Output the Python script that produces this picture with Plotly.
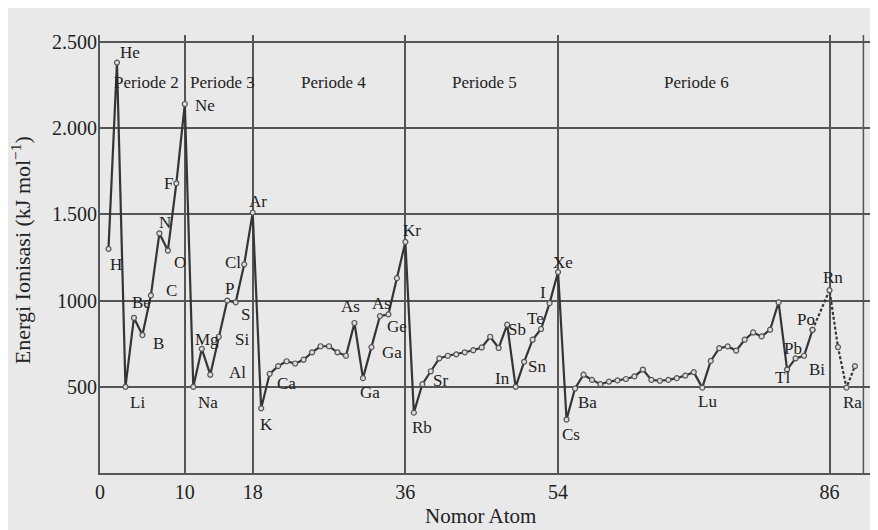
import plotly.graph_objects as go

# ---------------- data ----------------
atomic_numbers = list(range(1, 85))
energies = [1300, 2380, 500, 900, 800, 1030, 1390, 1290, 1680, 2140,
            500, 720, 570, 790, 1000, 990, 1210, 1510,
            375, 575, 620, 648, 635, 657, 700, 735, 735, 700, 680, 870, 550, 730, 910, 920, 1130, 1340,
            350, 515, 590, 665, 680, 688, 700, 712, 728, 790, 725, 860, 500, 645, 773, 835, 985, 1165,
            310, 490, 570, 540, 515, 530, 537, 545, 560, 600, 540, 535, 540, 550, 565, 585, 495,
            650, 724, 734, 710, 773, 815, 792, 831, 990, 600, 665, 680, 830]

dashed_numbers = [84, 86, 87, 88, 89]
dashed_energies = [830, 1060, 730, 495, 620]

label_numbers = [1, 2, 3, 4, 5, 6, 7, 8, 9, 10, 11, 12, 13, 14, 15, 16, 17, 18, 19, 20,
                 30, 31, 32, 33, 34, 36, 37, 38, 48, 49, 50, 52, 53, 54, 55, 56, 71,
                 81, 82, 83, 84, 86, 88]
label_texts = ["H", "He", "Li", "Be", "B", "C", "N", "O", "F", "Ne", "Na", "Mg", "Al", "Si",
               "P", "S", "Cl", "Ar", "K", "Ca", "As", "Ga", "Ga", "As", "Ge", "Kr", "Rb", "Sr",
               "Sb", "In", "Sn", "Te", "I", "Xe", "Cs", "Ba", "Lu", "Tl", "Pb", "Bi", "Po",
               "Rn", "Ra"]

period_names = ["Periode 2", "Periode 3", "Periode 4", "Periode 5", "Periode 6"]
period_centers = [5.5, 14.4, 27.5, 45.3, 70.3]

x_ticks = [0, 10, 18, 36, 54, 86]
x_ticktext = ["0", "10", "18", "36", "54", "86"]
extra_vline = 90
y_ticks = [500, 1000, 1500, 2000, 2500]
y_ticktext = ["500", "1000", "1.500", "2.000", "2.500"]

# ---------------- styles ----------------
label_offsets = [(8, -16), (13, 10), (12, -16), (8, 15), (16, -8), (21, 5), (6, 11), (12, -12),
                 (-8, 0), (20, -2), (15, -16), (5, 9), (27, 2), (23, -3), (2, 12), (10, -12),
                 (-11, 2), (5, 11), (5, -16), (17, -10), (-4, 16), (7, -14), (21, -5), (2, 13),
                 (9, -12), (7, 11), (8, -15), (18, 4), (10, -5), (-13, 8), (13, -5), (-6, 11),
                 (-7, 11), (5, 10), (4, -15), (12, -14), (5, -14), (-5, -8), (-3, 10), (13, -14),
                 (-7, 10), (3, 13), (6, -15)]

FONT = "Liberation Serif, DejaVu Serif, serif"
TXT = "#222222"
LINE = "#353535"
GRID = "#555555"
BG = "#e9e9e9"

all_z = atomic_numbers + dashed_numbers
all_e = energies + dashed_energies
lookup = dict(zip(all_z, all_e))

fig = go.Figure()
fig.add_trace(go.Scatter(
    x=atomic_numbers, y=energies, mode="lines+markers",
    line=dict(color=LINE, width=2.2),
    marker=dict(size=5, color="#dcdcdc", line=dict(color="#555555", width=1.2)),
    showlegend=False, hoverinfo="skip"))
fig.add_trace(go.Scatter(
    x=dashed_numbers, y=dashed_energies, mode="lines+markers",
    line=dict(color=LINE, width=2.2, dash="3px,2px"),
    marker=dict(size=5, color="#dcdcdc", line=dict(color="#555555", width=1.2)),
    showlegend=False, hoverinfo="skip"))

annotations = []
for z, t, (dx, dy) in zip(label_numbers, label_texts, label_offsets):
    annotations.append(dict(x=z, y=lookup[z], text=t, showarrow=False, xshift=dx, yshift=dy,
                            xanchor="center", yanchor="middle",
                            font=dict(family=FONT, size=17, color=TXT)))
for name, cx in zip(period_names, period_centers):
    annotations.append(dict(x=cx, y=2262, text=name, showarrow=False,
                            xanchor="center", yanchor="middle",
                            font=dict(family=FONT, size=17, color=TXT)))
annotations.append(dict(xref="paper", yref="paper", x=-0.1015, y=0.509,
                        text="Energi Ionisasi (kJ mol<sup>−1</sup>)", textangle=-90,
                        showarrow=False, xanchor="center", yanchor="middle",
                        font=dict(family=FONT, size=22, color=TXT)))
annotations.append(dict(xref="paper", yref="paper", x=0.49, y=-0.098,
                        text="Nomor Atom", showarrow=False, xanchor="center", yanchor="middle",
                        font=dict(family=FONT, size=21, color=TXT)))

fig.update_layout(
    width=870, height=522,
    margin=dict(l=92, r=1, t=27, b=57),
    paper_bgcolor=BG, plot_bgcolor=BG,
    annotations=annotations,
    shapes=[dict(type="line", xref="x", yref="y", x0=extra_vline, x1=extra_vline,
                 y0=0, y1=2540, line=dict(color=GRID, width=1.5), layer="below")],
    xaxis=dict(range=[0, 91.6], tickvals=x_ticks, ticktext=x_ticktext,
               showgrid=True, gridcolor=GRID, gridwidth=1.5, zeroline=False,
               showline=True, linecolor=GRID, linewidth=2,
               ticks="", tickfont=dict(family=FONT, size=20, color=TXT)),
    yaxis=dict(range=[0, 2540], tickvals=y_ticks, ticktext=y_ticktext,
               showgrid=True, gridcolor=GRID, gridwidth=2, zeroline=False,
               showline=True, linecolor=GRID, linewidth=2,
               ticks="", ticklabelstandoff=-3,
               tickfont=dict(family=FONT, size=20, color=TXT)),
)

fig.write_html("out.html")
